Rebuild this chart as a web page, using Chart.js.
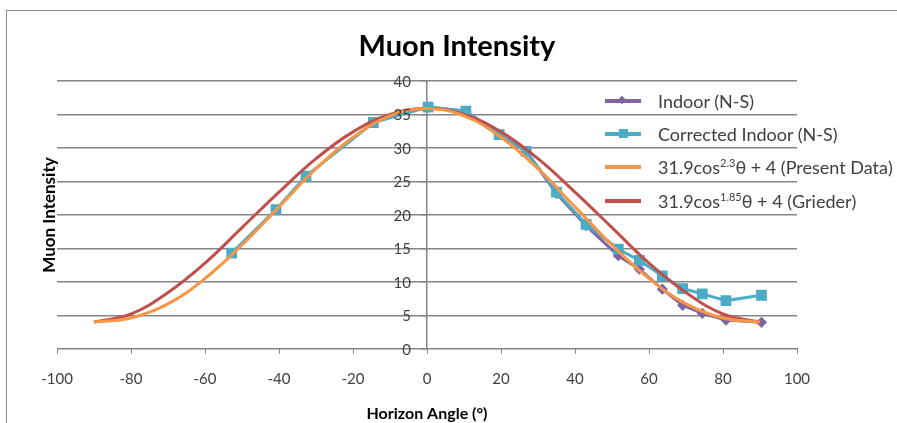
<!DOCTYPE html>
<html>
<head>
<meta charset="utf-8">
<script src="https://cdn.jsdelivr.net/npm/chart.js@4.4.1/dist/chart.umd.min.js"></script>
<style>
    html, body { margin: 0; padding: 0; background: #fff; }
    #wrap { position: relative; width: 897px; height: 423px; overflow: hidden; font-family: Lato, sans-serif; }
    #frame { position: absolute; left: 6px; top: 10px; right: -2px; bottom: -2px; border-top: 1px solid #8a8a8a; border-left: 1px solid #8a8a8a; }
    #chartTitle { position: absolute; left: 257px; width: 400px; top: 27px; text-align: center; font-weight: bold; font-size: 29px; color: #000; line-height: 36px; }
    #yTitle { position: absolute; left: 48px; top: 215px; transform: translate(-50%, -50%) rotate(-90deg); font-weight: bold; font-size: 17px; color: #000; white-space: nowrap; }
    .leg { position: absolute; left: 605px; height: 22px; width: 300px; }
    .leg .ln { position: absolute; left: 0; top: 9px; width: 36px; height: 3.5px; }
    .leg .mk { position: absolute; }
    .leg .tx { position: absolute; left: 53px; top: 0; font-size: 18px; line-height: 22px; color: #404040; white-space: nowrap; }
    .leg sup { font-size: 11px; vertical-align: 7px; line-height: 0; }
</style>
</head>
<body>
<div id="wrap">
    <canvas id="muonChart" width="897" height="423"></canvas>
    <div id="frame"></div>
    <div id="chartTitle">Muon Intensity</div>
    <div id="yTitle">Muon Intensity</div>
    <div class="leg" style="top:90px">
        <div class="ln" style="background:#8064A2"></div>
        <div class="mk" style="left:14px;top:7px;width:6px;height:6px;background:#8064A2;transform:rotate(45deg)"></div>
        <div class="tx">Indoor (N-S)</div>
    </div>
    <div class="leg" style="top:123px">
        <div class="ln" style="background:#4BACC6"></div>
        <div class="mk" style="left:14px;top:6px;width:9px;height:9px;background:#4BACC6"></div>
        <div class="tx">Corrected Indoor (N-S)</div>
    </div>
    <div class="leg" style="top:156px">
        <div class="ln" style="background:#F79646"></div>
        <div class="tx">31.9cos<sup>2.3</sup>θ + 4 (Present Data)</div>
    </div>
    <div class="leg" style="top:190px">
        <div class="ln" style="background:#C0504D"></div>
        <div class="tx">31.9cos<sup>1.85</sup>θ + 4 (Grieder)</div>
    </div>
</div>
<script>
// measured points
const indoorAngle = [0.3, 10.5, 19.5, 26.8, 35, 43, 51.7, 57.4, 63.6, 69.1, 74.4, 80.8, 90.4];
const indoorValue = [36.1, 35.5, 32.0, 29.5, 23.2, 18.4, 13.9, 11.9, 8.9, 6.5, 5.3, 4.3, 3.95];

const correctedAngle = [-52.8, -40.8, -32.7, -14.5, 0.3, 10.5, 19.5, 26.8, 35, 43, 51.7, 57.4, 63.6, 69.1, 74.4, 80.8, 90.4];
const correctedValue = [14.3, 20.8, 25.8, 33.8, 36.1, 35.5, 32.0, 29.5, 23.4, 18.6, 14.9, 13.2, 10.9, 9.0, 8.2, 7.2, 8.0];

// fit curves, every 10 degrees
const fitAngle = [-90, -80, -70, -60, -50, -40, -30, -20, -10, 0, 10, 20, 30, 40, 50, 60, 70, 80, 90];
const presentFit = [4.0, 4.6, 6.7, 10.5, 15.5, 21.2, 26.9, 31.6, 34.8, 35.9, 34.8, 31.6, 26.9, 21.2, 15.5, 10.5, 6.7, 4.6, 4.0];
const griederFit = [4.0, 5.2, 8.4, 12.8, 18.1, 23.4, 28.4, 32.4, 35.0, 35.9, 35.0, 32.4, 28.4, 23.4, 18.1, 12.8, 8.4, 5.2, 4.0];

const xTicks = [-100, -80, -60, -40, -20, 0, 20, 40, 60, 80, 100];
const yTicks = [0, 5, 10, 15, 20, 25, 30, 35, 40];

function pairs(xs, ys) {
    return xs.map((x, i) => ({ x: x, y: ys[i] }));
}

const gridGray = '#858585';

// y labels sit just left of the axis at x = 0
const yLabelsAtZero = {
    id: 'yLabelsAtZero',
    afterDraw(chart) {
        const ctx = chart.ctx;
        const xs = chart.scales.x;
        const ys = chart.scales.y;
        const axisX = xs.getPixelForValue(0);
        ctx.save();
        ctx.font = '15px Lato';
        ctx.fillStyle = '#404040';
        ctx.textAlign = 'right';
        ctx.textBaseline = 'middle';
        yTicks.forEach(v => {
            ctx.fillText(String(v), axisX - 16, ys.getPixelForValue(v) + 1);
        });
        ctx.restore();
    }
};

new Chart(document.getElementById('muonChart'), {
    type: 'line',
    data: {
        datasets: [
            {
                label: 'Indoor (N-S)',
                data: pairs(indoorAngle, indoorValue),
                borderColor: '#8064A2',
                backgroundColor: '#8064A2',
                borderWidth: 3,
                tension: 0,
                pointStyle: 'rectRot',
                pointRadius: 3.5,
                order: 4
            },
            {
                label: 'Corrected Indoor (N-S)',
                data: pairs(correctedAngle, correctedValue),
                borderColor: '#4BACC6',
                backgroundColor: '#4BACC6',
                borderWidth: 3,
                tension: 0,
                pointStyle: 'rect',
                pointRadius: 5.5,
                order: 3
            },
            {
                label: '31.9cos^2.3 θ + 4 (Present Data)',
                data: pairs(fitAngle, presentFit),
                borderColor: '#F79646',
                borderWidth: 3,
                tension: 0.4,
                pointRadius: 0,
                order: 1
            },
            {
                label: '31.9cos^1.85 θ + 4 (Grieder)',
                data: pairs(fitAngle, griederFit),
                borderColor: '#C0504D',
                borderWidth: 3,
                tension: 0.4,
                pointRadius: 0,
                order: 2
            }
        ]
    },
    options: {
        responsive: false,
        animation: false,
        layout: {
            padding: { left: 57, right: 100, top: 81, bottom: 0 }
        },
        plugins: {
            legend: { display: false },
            tooltip: { enabled: false }
        },
        scales: {
            x: {
                type: 'linear',
                min: -100,
                max: 100,
                afterBuildTicks: (axis) => {
                    axis.ticks = xTicks.map(v => ({ value: v }));
                },
                grid: {
                    drawOnChartArea: false,
                    drawTicks: true,
                    tickLength: 5,
                    color: gridGray
                },
                border: { display: true, color: gridGray, width: 1 },
                ticks: {
                    padding: 16,
                    color: '#404040',
                    font: { family: 'Lato', size: 15 }
                },
                title: {
                    display: true,
                    text: 'Horizon Angle (°)',
                    color: '#000',
                    font: { family: 'Lato', size: 16, weight: 'bold' },
                    padding: { top: 0, bottom: 0 }
                }
            },
            y: {
                position: { x: 0 },
                min: 0,
                max: 40,
                afterBuildTicks: (axis) => {
                    axis.ticks = yTicks.map(v => ({ value: v }));
                },
                ticks: { display: false },
                grid: {
                    color: gridGray,
                    lineWidth: 1.5,
                    tickLength: 5
                },
                border: { display: true, color: gridGray, width: 1.5 }
            }
        }
    },
    plugins: [yLabelsAtZero]
});
</script>
</body>
</html>
